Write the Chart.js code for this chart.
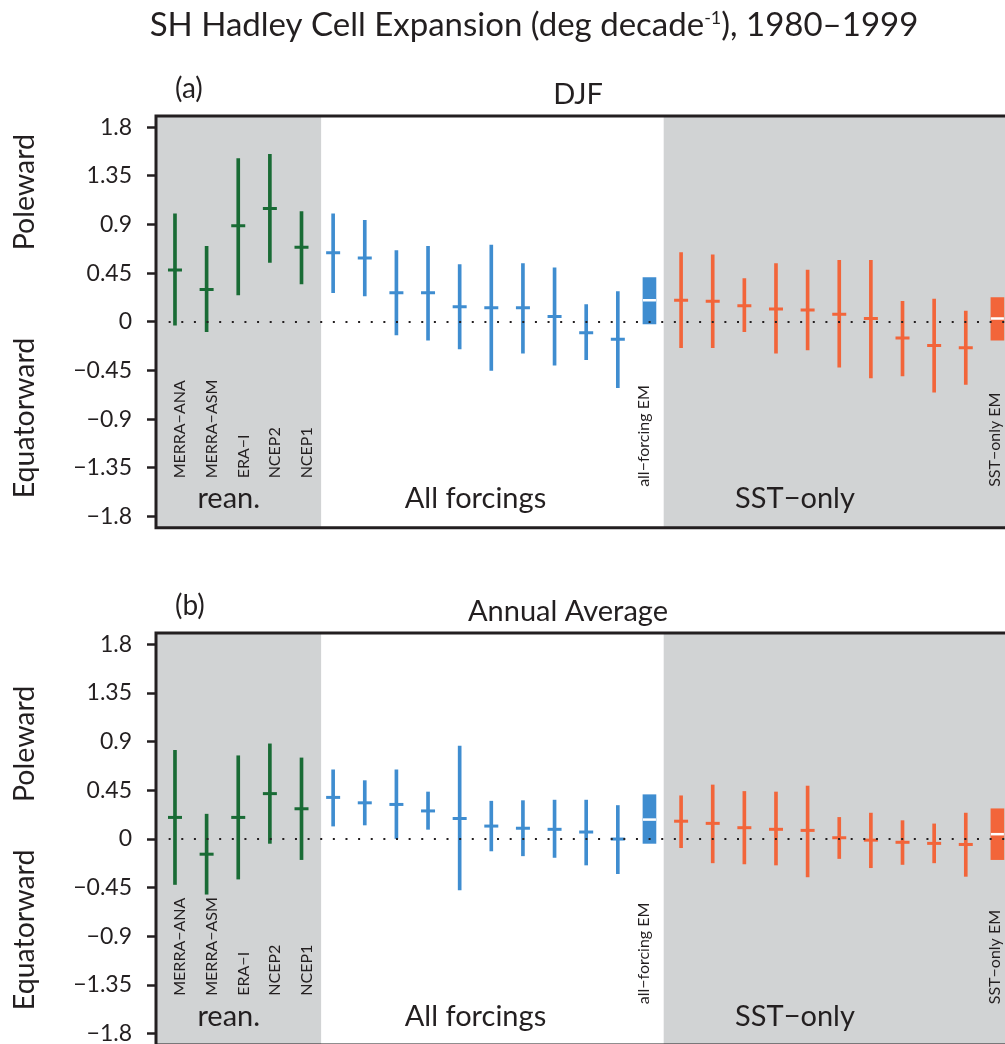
<!DOCTYPE html>
<html>
<head>
<meta charset="utf-8">
<script src="https://cdn.jsdelivr.net/npm/chart.js@4.4.0/dist/chart.umd.min.js"></script>
<style>
  html, body { margin: 0; padding: 0; background: #ffffff; overflow: hidden; width: 1005px; height: 1044px; }
  canvas { position: absolute; left: 0; display: block; }
  #ca { top: 0; }
  #cb { top: 545px; }
</style>
</head>
<body>
<canvas id="ca" width="1005" height="545"></canvas>
<canvas id="cb" width="1005" height="505"></canvas>
<script>
// ---- axis ticks -------------------------------------------------------------
const tickValues = [-1.8, -1.35, -0.9, -0.45, 0, 0.45, 0.9, 1.35, 1.8];
const tickLabels = ['\u22121.8', '\u22121.35', '\u22120.9', '\u22120.45', '0', '0.45', '0.9', '1.35', '1.8'];

// ---- categories -------------------------------------------------------------
const reanNames = ['MERRA\u2212ANA', 'MERRA\u2212ASM', 'ERA\u2212I', 'NCEP2', 'NCEP1'];
const allEmName = 'all\u2212forcing EM';
const sstEmName = 'SST\u2212only EM';
const groupNames = ['rean.', 'All forcings', 'SST\u2212only'];

// ---- DJF trends (deg/decade): low end, mean, high end ------------------------
const djfReanLo   = [-0.03, -0.09, 0.25, 0.55, 0.35];
const djfReanMean = [0.48, 0.30, 0.89, 1.05, 0.69];
const djfReanHi   = [1.00, 0.70, 1.51, 1.55, 1.02];

const djfAllLo   = [0.27, 0.24, -0.12, -0.17, -0.25, -0.45, -0.29, -0.40, -0.35, -0.61];
const djfAllMean = [0.64, 0.59, 0.27, 0.27, 0.14, 0.13, 0.13, 0.05, -0.10, -0.16];
const djfAllHi   = [1.00, 0.94, 0.66, 0.70, 0.53, 0.71, 0.54, 0.50, 0.16, 0.28];
const djfAllEM   = [-0.02, 0.20, 0.41];   // [low, mean, high]

const djfSstLo   = [-0.24, -0.24, -0.09, -0.29, -0.26, -0.42, -0.52, -0.50, -0.65, -0.58];
const djfSstMean = [0.20, 0.19, 0.15, 0.12, 0.11, 0.07, 0.03, -0.15, -0.22, -0.24];
const djfSstHi   = [0.64, 0.62, 0.40, 0.54, 0.48, 0.57, 0.57, 0.19, 0.21, 0.10];
const djfSstEM   = [-0.17, 0.03, 0.225];

// ---- Annual-average trends ---------------------------------------------------
const annReanLo   = [-0.42, -0.51, -0.37, -0.04, -0.19];
const annReanMean = [0.20, -0.14, 0.20, 0.42, 0.28];
const annReanHi   = [0.82, 0.23, 0.77, 0.88, 0.75];

const annAllLo   = [0.12, 0.13, 0.00, 0.09, -0.47, -0.11, -0.155, -0.17, -0.24, -0.32];
const annAllMean = [0.385, 0.335, 0.32, 0.26, 0.19, 0.12, 0.10, 0.09, 0.065, 0.00];
const annAllHi   = [0.64, 0.54, 0.64, 0.435, 0.86, 0.35, 0.355, 0.36, 0.36, 0.31];
const annAllEM   = [-0.04, 0.18, 0.41];

const annSstLo   = [-0.08, -0.22, -0.23, -0.24, -0.35, -0.18, -0.265, -0.235, -0.22, -0.345];
const annSstMean = [0.165, 0.145, 0.105, 0.09, 0.08, 0.012, -0.01, -0.03, -0.04, -0.05];
const annSstHi   = [0.40, 0.50, 0.44, 0.435, 0.49, 0.20, 0.24, 0.17, 0.14, 0.24];
const annSstEM   = [-0.19, 0.045, 0.28];

// ---- styling -----------------------------------------------------------------
const FONT = 'Lato, "Open Sans", sans-serif';
const INK = '#231f20';
const GREEN = '#196b35';
const BLUE = '#3f8dd0';
const ORANGE = '#f2653a';
const SHADE = '#d1d3d4';

// slot of the first item of each group along the x axis
const POS = { rean: 0, all: 5, allEm: 15, sst: 16, sstEm: 26 };

function whiskerSets(start, lo, mean, hi, color) {
  return [
    { type: 'bar', order: 1, grouped: false, barThickness: 3, backgroundColor: color, borderWidth: 0,
      data: lo.map((v, i) => ({ x: start + i, y: [v, hi[i]] })) },
    { type: 'scatter', order: 0, pointStyle: 'line', pointRadius: 7, pointBorderWidth: 3,
      pointBorderColor: color, data: mean.map((v, i) => ({ x: start + i, y: v })) }
  ];
}

function ensembleSets(pos, em, color) {
  return [
    { type: 'bar', order: 1, grouped: false, barThickness: 13, backgroundColor: color, borderWidth: 0,
      data: [{ x: pos, y: [em[0], em[2]] }] },
    { type: 'scatter', order: 0, pointStyle: 'line', pointRadius: 6.5, pointBorderWidth: 2.5,
      pointBorderColor: '#ffffff', data: [{ x: pos, y: em[1] }] }
  ];
}

function drawText(ctx, s, x, y, size, align, rotate) {
  ctx.save();
  ctx.font = size + 'px ' + FONT;
  ctx.fillStyle = INK;
  ctx.textAlign = align || 'left';
  ctx.textBaseline = 'alphabetic';
  ctx.translate(x, y);
  if (rotate) ctx.rotate(-Math.PI / 2);
  ctx.fillText(s, 0, 0);
  ctx.restore();
}

function panelPlugin(spec) {
  return {
    id: 'panelDecor',
    beforeDatasetsDraw(chart) {
      const { ctx, chartArea: a, scales: { x } } = chart;
      ctx.save();
      ctx.fillStyle = SHADE;
      const reanEnd = x.getPixelForValue(POS.all - 0.38);
      ctx.fillRect(a.left, a.top, reanEnd - a.left, a.bottom - a.top);
      const sstStart = x.getPixelForValue(POS.sst - 0.55);
      ctx.fillRect(sstStart, a.top, a.right - sstStart, a.bottom - a.top);
      ctx.restore();
    },
    afterDatasetsDraw(chart) {
      const { ctx, chartArea: a, scales: { x, y } } = chart;
      // dotted zero line
      ctx.save();
      ctx.strokeStyle = INK;
      ctx.lineWidth = 2;
      ctx.setLineDash([2, 10.63]);
      const y0 = Math.round(y.getPixelForValue(0));
      ctx.beginPath();
      ctx.moveTo(x.getPixelForValue(-0.2), y0);
      ctx.lineTo(a.right, y0);
      ctx.stroke();
      ctx.restore();

      const yBase = y.getPixelForValue(-1.8);
      reanNames.forEach((n, i) => {
        drawText(ctx, n, x.getPixelForValue(POS.rean + i) + 10.5, yBase - 38, 16, 'left', true);
      });
      drawText(ctx, allEmName, x.getPixelForValue(POS.allEm) - 0.5, yBase - 29.5, 16, 'left', true);
      drawText(ctx, sstEmName, x.getPixelForValue(POS.sstEm) + 2.5, yBase - 29.5, 16, 'left', true);

      drawText(ctx, groupNames[0], x.getPixelForValue(POS.rean + 1.7), yBase - 8, 29, 'center');
      drawText(ctx, groupNames[1], x.getPixelForValue(POS.all + 4.5), yBase - 8, 29, 'center');
      drawText(ctx, groupNames[2], x.getPixelForValue(POS.sst + 3.6), yBase - 8, 29, 'center');
    },
    afterDraw(chart) {
      const { ctx, chartArea: a, scales: { y } } = chart;
      // frame: top, bottom and left edges
      ctx.save();
      ctx.strokeStyle = INK;
      ctx.lineWidth = 3;
      ctx.beginPath();
      ctx.moveTo(a.left, a.top); ctx.lineTo(a.right, a.top);
      ctx.moveTo(a.left, a.bottom); ctx.lineTo(a.right, a.bottom);
      ctx.moveTo(a.left, a.top - 1.5); ctx.lineTo(a.left, a.bottom + 1.5);
      ctx.stroke();
      ctx.restore();

      drawText(ctx, spec.letter, 175, a.top - 18, 28, 'left');
      drawText(ctx, spec.season, spec.seasonX, a.top - 12.5, 29, 'center');
      drawText(ctx, 'Poleward', 34, y.getPixelForValue(spec.poleY), 28.5, 'center', true);
      drawText(ctx, 'Equatorward', 34, y.getPixelForValue(spec.equY), 28.5, 'center', true);

      if (spec.heading) {
        const parts = [
          ['SH Hadley Cell Expansion (deg decade', 33, 0],
          ['-1', 18, -12],
          ['), 1980\u20131999', 33, 0]
        ];
        ctx.save();
        let total = 0;
        parts.forEach(p => { ctx.font = p[1] + 'px ' + FONT; total += ctx.measureText(p[0]).width; });
        let cx = 534 - total / 2;
        ctx.fillStyle = INK;
        ctx.textBaseline = 'alphabetic';
        ctx.textAlign = 'left';
        parts.forEach(p => {
          ctx.font = p[1] + 'px ' + FONT;
          ctx.fillText(p[0], cx, 36 + p[2]);
          cx += ctx.measureText(p[0]).width;
        });
        ctx.restore();
      }
    }
  };
}

function buildPanel(canvasId, spec, d, pad) {
  const datasets = [].concat(
    whiskerSets(POS.rean, d.reanLo, d.reanMean, d.reanHi, GREEN),
    whiskerSets(POS.all, d.allLo, d.allMean, d.allHi, BLUE),
    ensembleSets(POS.allEm, d.allEM, BLUE),
    whiskerSets(POS.sst, d.sstLo, d.sstMean, d.sstHi, ORANGE),
    ensembleSets(POS.sstEm, d.sstEM, ORANGE)
  );
  return new Chart(document.getElementById(canvasId), {
    type: 'scatter',
    data: { datasets },
    options: {
      responsive: false,
      animation: false,
      events: [],
      layout: { autoPadding: false, padding: { top: pad.top, bottom: pad.bottom, left: 0, right: 0 } },
      plugins: { legend: { display: false }, tooltip: { enabled: false }, title: { display: false } },
      scales: {
        x: { type: 'linear', min: -0.6, max: 26.24, offset: false, display: false },
        y: {
          type: 'linear', min: -1.905, max: 1.905,
          afterBuildTicks: s => { s.ticks = tickValues.map(v => ({ value: v })); },
          afterFit: s => { s.width = 156; s.paddingTop = 0; s.paddingBottom = 0; },
          ticks: {
            autoSkip: false, padding: 15, color: INK,
            font: { family: FONT, size: 23 },
            callback: v => tickLabels[tickValues.indexOf(v)]
          },
          grid: { display: true, drawOnChartArea: false, drawTicks: true, tickLength: 9, tickWidth: 2.5, tickColor: INK },
          border: { display: false }
        }
      }
    },
    plugins: [panelPlugin(spec)]
  });
}

buildPanel('ca',
  { letter: '(a)', season: 'DJF', seasonX: 578, poleY: 1.2, equY: -0.89, heading: true },
  { reanLo: djfReanLo, reanMean: djfReanMean, reanHi: djfReanHi,
    allLo: djfAllLo, allMean: djfAllMean, allHi: djfAllHi, allEM: djfAllEM,
    sstLo: djfSstLo, sstMean: djfSstMean, sstHi: djfSstHi, sstEM: djfSstEM },
  { top: 116, bottom: 17.3 });

buildPanel('cb',
  { letter: '(b)', season: 'Annual Average', seasonX: 568, poleY: 0.88, equY: -0.84, heading: false },
  { reanLo: annReanLo, reanMean: annReanMean, reanHi: annReanHi,
    allLo: annAllLo, allMean: annAllMean, allHi: annAllHi, allEM: annAllEM,
    sstLo: annSstLo, sstMean: annSstMean, sstHi: annSstHi, sstEM: annSstEM },
  { top: 88, bottom: 4.9 });
</script>
</body>
</html>
